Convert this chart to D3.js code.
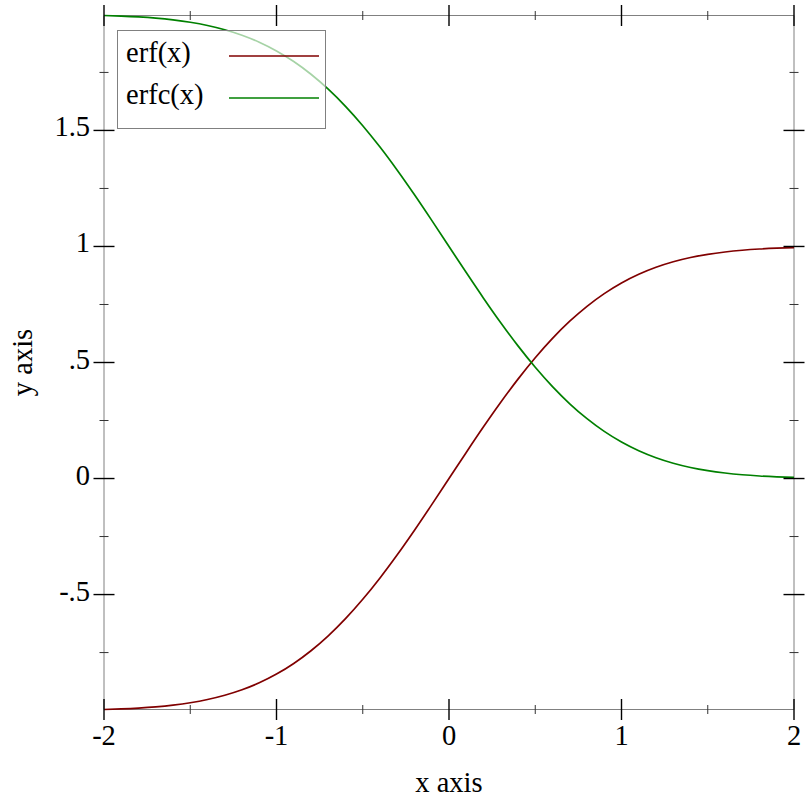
<!DOCTYPE html>
<html><head><meta charset="utf-8">
<script src="https://cdn.jsdelivr.net/npm/d3@7"></script>
<style>body{margin:0;background:#fff}svg{display:block}text{font-family:"Liberation Serif","Times New Roman",serif;fill:#000}</style>
</head><body>
<svg id="c" width="812" height="812"></svg>
<script>
const xValues = [-2.0,-1.9,-1.8,-1.7,-1.6,-1.5,-1.4,-1.3,-1.2,-1.1,-1.0,-0.9,-0.8,-0.7,-0.6,-0.5,-0.4,-0.3,-0.2,-0.1,0.0,0.1,0.2,0.3,0.4,0.5,0.6,0.7,0.8,0.9,1.0,1.1,1.2,1.3,1.4,1.5,1.6,1.7,1.8,1.9,2.0];
const erfValues = [-0.9953,-0.9928,-0.9891,-0.9838,-0.9763,-0.9661,-0.9523,-0.9340,-0.9103,-0.8802,-0.8427,-0.7969,-0.7421,-0.6778,-0.6039,-0.5205,-0.4284,-0.3286,-0.2227,-0.1125,0.0,0.1125,0.2227,0.3286,0.4284,0.5205,0.6039,0.6778,0.7421,0.7969,0.8427,0.8802,0.9103,0.9340,0.9523,0.9661,0.9763,0.9838,0.9891,0.9928,0.9953];
const erfcValues = [1.9953,1.9928,1.9891,1.9838,1.9763,1.9661,1.9523,1.9340,1.9103,1.8802,1.8427,1.7969,1.7421,1.6778,1.6039,1.5205,1.4284,1.3286,1.2227,1.1125,1.0,0.8875,0.7773,0.6714,0.5716,0.4795,0.3961,0.3222,0.2579,0.2031,0.1573,0.1198,0.0897,0.0660,0.0477,0.0339,0.0237,0.0162,0.0109,0.0072,0.0047];
const seriesNames = ["erf(x)","erfc(x)"];
const xMajorTicks = [-2,-1,0,1,2];
const xMinorTicks = [-1.5,-0.5,0.5,1.5];
const xTickLabels = ["-2","-1","0","1","2"];
const yMajorTicks = [-0.5,0,0.5,1,1.5];
const yMinorTicks = [-0.75,-0.25,0.25,0.75,1.25,1.75];
const yTickLabels = ["-.5","0",".5","1","1.5"];
const xTitle = "x axis", yTitle = "y axis";

const svg = d3.select("#c");
const L=104, R=794, T=15.5, B=709.5;
const x = d3.scaleLinear().domain([-2,2]).range([L,R]);
const y = d3.scaleLinear().domain([-0.9953,1.9953]).range([B,T]);
const colors = ["#800000","#008000"];
const FS = 28.5;

// axes frame
const axisCol = "#808080";
svg.append("g").selectAll("line").data([[L,T,R,T],[L,B,R,B],[L,T,L,B],[R,T,R,B]]).join("line")
  .attr("x1",d=>d[0]).attr("y1",d=>d[1]).attr("x2",d=>d[2]).attr("y2",d=>d[3])
  .attr("stroke",axisCol).attr("stroke-width",1);

// curves
const line = d3.line().x((d,i)=>x(xValues[i])).y(d=>y(d)).curve(d3.curveMonotoneX);
[erfValues, erfcValues].forEach((vals,k)=>{
  svg.append("path").attr("d",line(vals)).attr("fill","none").attr("stroke",colors[k]).attr("stroke-width",1.7);
});

// ticks
const tk = svg.append("g");
function vt(xv, len, col, w){
  [T,B].forEach(yy=>tk.append("line").attr("x1",x(xv)).attr("x2",x(xv)).attr("y1",yy-len).attr("y2",yy+len).attr("stroke",col).attr("stroke-width",w));
}
function ht(yv, len, col, w){
  [L,R].forEach(xx=>tk.append("line").attr("y1",y(yv)).attr("y2",y(yv)).attr("x1",xx-len).attr("x2",xx+len).attr("stroke",col).attr("stroke-width",w));
}
xMajorTicks.forEach(v=>vt(v,10.5,"#000",1.4));
xMinorTicks.forEach(v=>vt(v,4.5,"#333",1));
yMajorTicks.forEach(v=>ht(v,10.5,"#000",1.4));
yMinorTicks.forEach(v=>ht(v,4.5,"#333",1));

// tick labels
svg.append("g").selectAll("text").data(xMajorTicks).join("text")
  .attr("x",d=>x(d)).attr("y",B+35).attr("text-anchor","middle").attr("font-size",FS)
  .text((d,i)=>xTickLabels[i]);
svg.append("g").selectAll("text").data(yMajorTicks).join("text")
  .attr("x",90).attr("y",d=>y(d)+6).attr("text-anchor","end").attr("font-size",FS)
  .text((d,i)=>yTickLabels[i]);

// titles
svg.append("text").attr("x",(L+R)/2).attr("y",792).attr("text-anchor","middle").attr("font-size",FS).text(xTitle);
svg.append("text").attr("transform",`translate(32,${(T+B)/2}) rotate(-90)`).attr("text-anchor","middle").attr("font-size",FS).text(yTitle);

// legend
const lg = svg.append("g");
lg.append("rect").attr("x",117.5).attr("y",30.5).attr("width",208).attr("height",98)
  .attr("fill","#fff").attr("fill-opacity",0.65).attr("stroke",axisCol).attr("stroke-width",1);
seriesNames.forEach((n,k)=>{
  const cy = 56 + k*42;
  lg.append("text").attr("x",126).attr("y",cy+6).attr("font-size",FS).text(n);
  lg.append("line").attr("x1",229).attr("x2",319).attr("y1",cy).attr("y2",cy).attr("stroke",colors[k]).attr("stroke-width",1.7);
});
</script>
</body></html>
